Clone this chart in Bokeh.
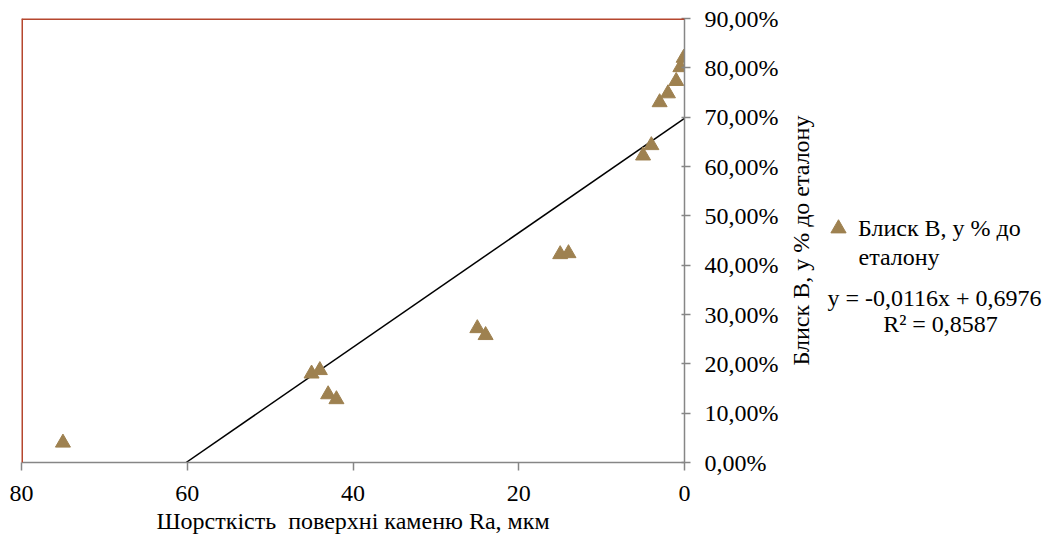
from math import pi
from bokeh.plotting import figure
from bokeh.layouts import row
from bokeh.models import Range1d, CustomJSTickFormatter, FixedTicker, Span, Label, Legend, LegendItem, ColumnDataSource
from bokeh.embed import file_html
from bokeh.resources import INLINE

# Data (roughness Ra, µm ; gloss B, fraction of reference)
ra = [75.0, 45.0, 44.0, 43.0, 42.0, 25.0, 24.0, 15.0, 14.0, 5.0, 4.0, 3.0, 2.0, 1.0, 0.5, 0.1]
gloss = [0.04, 0.18, 0.187, 0.138, 0.128, 0.272, 0.258, 0.422, 0.424, 0.622, 0.643, 0.730, 0.748, 0.773, 0.801, 0.820]
x_ticks = [0, 20, 40, 60, 80]
y_ticks = [0.0, 0.1, 0.2, 0.3, 0.4, 0.5, 0.6, 0.7, 0.8, 0.9]
slope = -0.0116
intercept = 0.6976
r2 = 0.8587
series_name = "Блиск В, у % до"
series_name2 = "еталону"
x_title = "Шорсткість\u00a0 поверхні каменю Ra, мкм"
y_title = "Блиск В, у % до еталону"

FONT = "Liberation Serif"
FS = "24px"
MARK = "#9E8150"
AXC = "#868686"
RED = "#B5472E"

W1 = 782
H = 537
FRAME_BOTTOM = 462  # page y of plot-frame bottom (frames are aligned in the row)

p = figure(width=W1, height=H, output_backend="svg", toolbar_location=None,
           x_range=Range1d(80, 0), y_range=Range1d(0, 0.9), y_axis_location="right",
           min_border_left=21, min_border_top=18, min_border_right=W1 - 684, min_border_bottom=H - FRAME_BOTTOM)
p.outline_line_color = None
p.xgrid.visible = False
p.ygrid.visible = False

# top & left border of plot area
p.add_layout(Span(location=0.9, dimension="width", line_color=RED, line_width=3))
p.add_layout(Span(location=80, dimension="height", line_color=RED, line_width=3))

# trend line
x_zero = -intercept / slope
tx = [x_zero, 0.0]
ty = [slope * v + intercept for v in tx]
p.line(tx, ty, line_color="black", line_width=1.5)

src = ColumnDataSource(dict(x=ra, y=gloss))
p.scatter("x", "y", source=src, marker="triangle", size=15, fill_color=MARK, line_color=MARK)

# axes
xa = p.xaxis[0]
xa.ticker = FixedTicker(ticks=x_ticks)
xa.axis_line_color = AXC
xa.axis_line_width = 1.5
xa.major_tick_line_color = AXC
xa.major_tick_line_width = 1.5
xa.major_tick_in = 0
xa.major_tick_out = 8
xa.minor_tick_line_color = None
xa.major_label_text_font = FONT
xa.major_label_text_font_size = FS
xa.major_label_text_color = "black"
xa.major_label_standoff = 15
xa.axis_label = x_title
xa.axis_label_text_font = FONT
xa.axis_label_text_font_size = FS
xa.axis_label_text_font_style = "normal"
xa.axis_label_text_color = "black"
xa.axis_label_standoff = 4

ya = p.yaxis[0]
ya.ticker = FixedTicker(ticks=y_ticks)
ya.formatter = CustomJSTickFormatter(code="return (tick*100).toFixed(2).replace('.', ',') + '%';")
ya.axis_line_color = AXC
ya.axis_line_width = 1.5
ya.major_tick_line_color = AXC
ya.major_tick_line_width = 1.5
ya.major_tick_in = 3
ya.major_tick_out = 6
ya.minor_tick_line_color = None
ya.major_label_text_font = FONT
ya.major_label_text_font_size = FS
ya.major_label_text_color = "black"
ya.major_label_standoff = 14

# side panel: rotated axis title, legend and trend equation
W2 = 1052 - W1
p2 = figure(width=W2, height=H, output_backend="svg", toolbar_location=None,
            x_range=Range1d(0, W2), y_range=Range1d(0, H),
            x_axis_location=None, y_axis_location=None,
            min_border_left=0, min_border_right=0, min_border_top=18, min_border_bottom=H - FRAME_BOTTOM)
p2.outline_line_color = None
p2.xgrid.visible = False
p2.ygrid.visible = False

GW = 38  # legend glyph box (marker drawn at 0.4 * box)
nan = float("nan")
dummy = p2.scatter(x=[nan], y=[nan], marker="triangle", size=15, fill_color=MARK, line_color=MARK)
leg = Legend(items=[LegendItem(label=series_name, renderers=[dummy])],
             location=(838 - W1 - GW // 2, FRAME_BOTTOM - 228 - GW // 2),
             border_line_color=None, background_fill_alpha=0, padding=0, margin=0,
             glyph_width=GW, glyph_height=GW, label_standoff=1, label_height=GW,
             label_text_font=FONT, label_text_font_size=FS, label_text_color="black")
p2.add_layout(leg)

def lab(x, y, t, align="left", angle=0.0):
    p2.add_layout(Label(x=x - W1, y=FRAME_BOTTOM - y, x_units="screen", y_units="screen", text=t, angle=angle,
                        text_font=FONT, text_font_size=FS, text_baseline="middle",
                        text_align=align, text_color="black"))

lab(800, 240, y_title, "center", pi / 2)
lab(858, 256, series_name2)
eq = "y = %sx + %s" % (("%.4f" % slope).replace(".", ","), ("%.4f" % intercept).replace(".", ","))
lab(934, 297, eq, "center")
lab(940, 323, "R² = " + ("%.4f" % r2).replace(".", ","), "center")

layout = row(p, p2, spacing=0)
open("out.html", "w").write(file_html(layout, INLINE))
